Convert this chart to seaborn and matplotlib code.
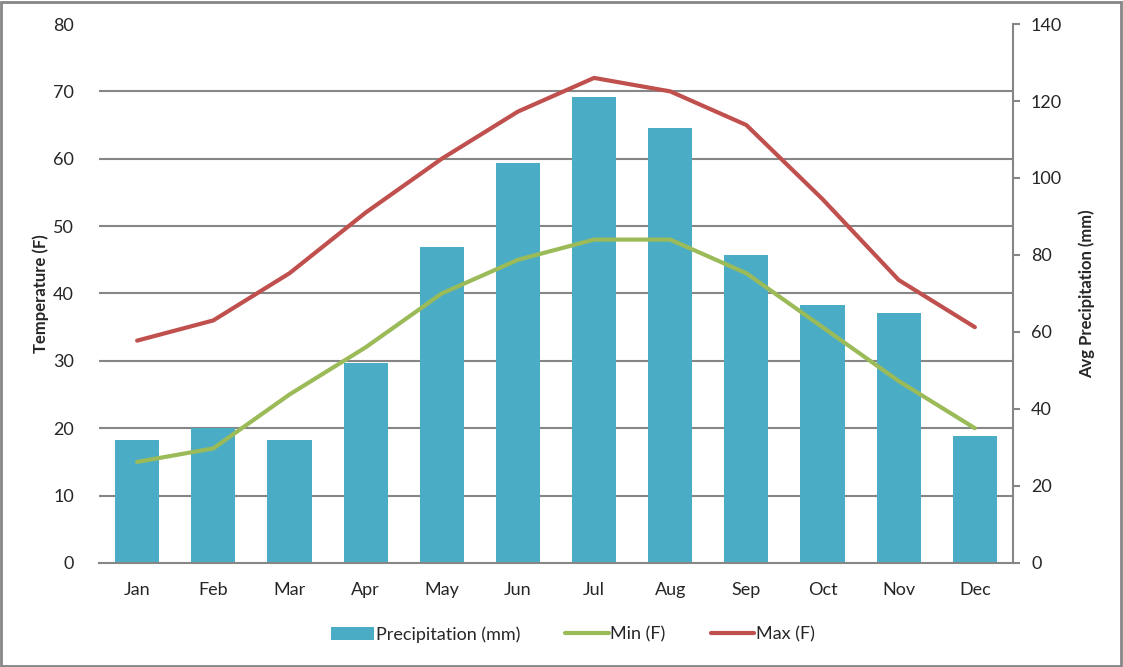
import numpy as np
import pandas as pd
import matplotlib.pyplot as plt
import seaborn as sns
from matplotlib.ticker import MultipleLocator
from matplotlib.patches import Rectangle

# Data
months = ["Jan", "Feb", "Mar", "Apr", "May", "Jun",
          "Jul", "Aug", "Sep", "Oct", "Nov", "Dec"]
precip_mm = [32, 35, 32, 52, 82, 104, 121, 113, 80, 67, 65, 33]
min_f = [15, 17, 25, 32, 40, 45, 48, 48, 43, 35, 27, 20]
max_f = [33, 36, 43, 52, 60, 67, 72, 70, 65, 54, 42, 35]

BAR_COLOR = "#4BACC6"
MIN_COLOR = "#9BBB59"
MAX_COLOR = "#C0504D"
GRID_COLOR = "#868686"

sns.set_style("white")
plt.rcParams['font.family'] = ['Lato', 'DejaVu Sans']

df = pd.DataFrame({"Month": months, "Precip": precip_mm,
                   "Min": min_f, "Max": max_f})
df["pos"] = np.arange(len(df))

fig = plt.figure(figsize=(11.23, 6.67), dpi=100)
ax_p = fig.add_axes([0.0882, 0.156, 0.8138, 0.808])

# bars on the bottom axes (precipitation, right scale)
sns.barplot(data=df, x="Month", y="Precip", color=BAR_COLOR, width=0.58,
            saturation=1, ax=ax_p, zorder=2, label="Precipitation (mm)",
            edgecolor="none", linewidth=0)
if ax_p.get_legend() is not None:
    ax_p.get_legend().remove()

# temperature lines on a twin axes
ax_t = ax_p.twinx()
sns.lineplot(data=df, x="pos", y="Min", color=MIN_COLOR, linewidth=3,
             ax=ax_t, label="Min (F)", legend=False)
sns.lineplot(data=df, x="pos", y="Max", color=MAX_COLOR, linewidth=3,
             ax=ax_t, label="Max (F)", legend=False)

# precipitation scale on the right
ax_p.set_ylim(0, 140)
ax_p.set_yticks(np.arange(0, 141, 20))
ax_p.yaxis.tick_right()
ax_p.yaxis.set_label_position("right")
ax_p.set_ylabel("Avg Precipitation (mm)", fontsize=12, fontweight="bold", labelpad=12)
ax_p.set_xlabel("")
ax_p.set_xlim(-0.5, 11.5)
# gridlines follow the temperature ticks (every 10 F = 17.5 mm)
ax_p.yaxis.set_minor_locator(MultipleLocator(17.5))
ax_p.grid(which="minor", axis="y", color=GRID_COLOR, linewidth=1.5, zorder=0)
ax_p.grid(which="major", axis="y", visible=False)
ax_p.set_axisbelow(True)
ax_p.tick_params(axis="y", which="major", direction="out", length=5, width=1.5,
                 color=GRID_COLOR, labelsize=13, pad=8, right=True, left=False,
                 labelright=True, labelleft=False)
ax_p.tick_params(axis="y", which="minor", length=0, left=False, right=False)
ax_p.tick_params(axis="x", length=0, labelsize=13, pad=14)

for side in ["top", "left"]:
    ax_p.spines[side].set_visible(False)
for side in ["right", "bottom"]:
    ax_p.spines[side].set_color(GRID_COLOR)
    ax_p.spines[side].set_linewidth(1.5)

# temperature scale on the left
ax_t.set_ylim(0, 80)
ax_t.set_yticks(np.arange(0, 81, 10))
ax_t.yaxis.tick_left()
ax_t.yaxis.set_label_position("left")
ax_t.set_ylabel("Temperature (F)", fontsize=12, fontweight="bold", labelpad=3)
ax_t.set_xlabel("")
ax_t.set_xlim(-0.5, 11.5)
ax_t.tick_params(axis="y", length=0, labelsize=13, pad=18)
for side in ax_t.spines:
    ax_t.spines[side].set_visible(False)

# legend at the bottom
h1, l1 = ax_p.get_legend_handles_labels()
h2, l2 = ax_t.get_legend_handles_labels()
fig.legend(h1 + h2, l1 + l2, loc="center", bbox_to_anchor=(0.51, 0.049),
           ncol=3, frameon=False, fontsize=13, handlelength=2.4,
           handletextpad=0.1, columnspacing=2.5)

# outer frame
fig.patches.append(Rectangle((0.001, 0.002), 0.997, 0.995, transform=fig.transFigure,
                             fill=False, edgecolor=GRID_COLOR, linewidth=2))

fig.savefig("out.png", dpi=100)
